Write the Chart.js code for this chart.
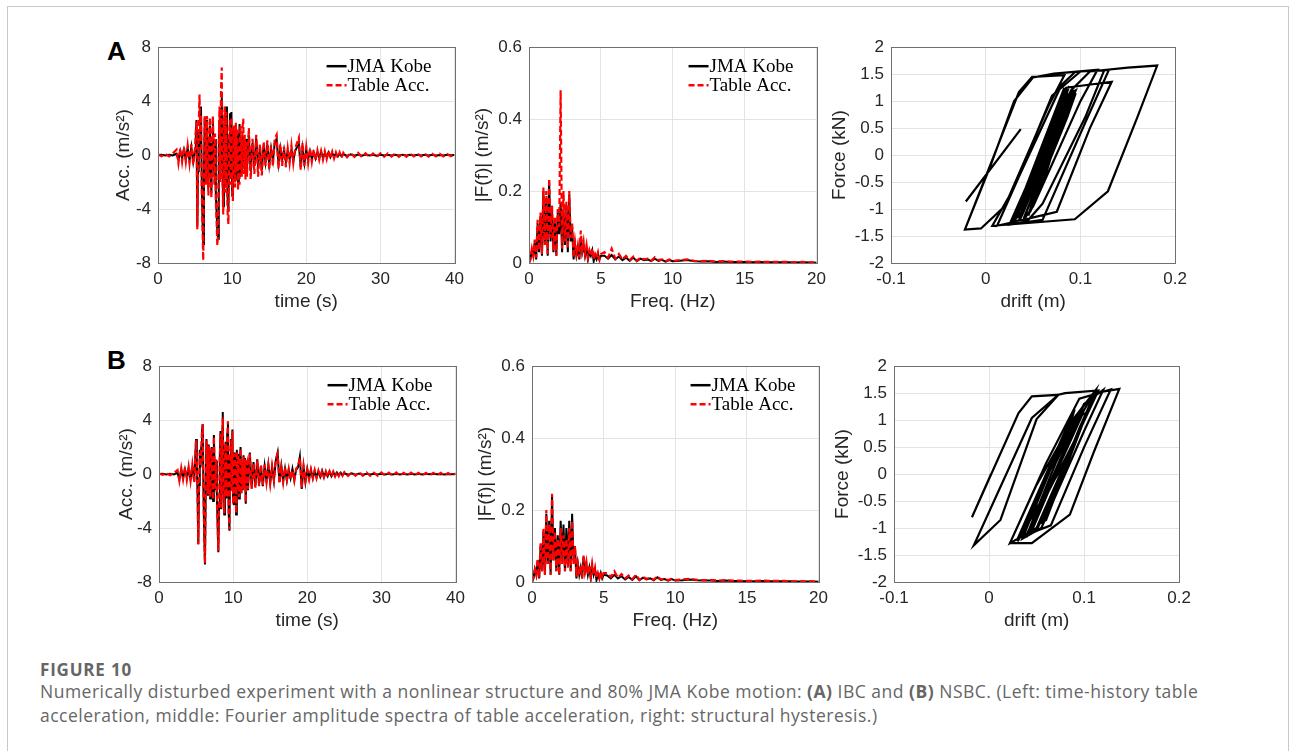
<!DOCTYPE html>
<html>
<head>
<meta charset="utf-8">
<script src="https://cdn.jsdelivr.net/npm/chart.js@4.4.0/dist/chart.umd.min.js"></script>
<style>
  body { margin: 0; width: 1293px; height: 751px; overflow: hidden; position: relative; background: #fff; }
  .frame { position: absolute; left: 7px; top: 6px; width: 1282px; height: 800px; border: 1px solid #c8c8c8; box-sizing: border-box; }
  .tag { position: absolute; font: bold 26px "Liberation Sans", Arial, sans-serif; color: #000; }
  .cap { position: absolute; left: 40px; font-family: "Open Sans", "Noto Sans", sans-serif; color: #666; white-space: nowrap; }
  .cap-title { top: 659px; font-size: 17px; font-weight: 700; line-height: 22px; letter-spacing: 0.8px; }
  .cap-text { top: 679px; font-size: 17.5px; line-height: 24px; letter-spacing: 0.5px; }
</style>
</head>
<body>
<div class="frame"></div>
<div class="tag" style="left:107px;top:36px;">A</div>
<div class="tag" style="left:107px;top:345px;">B</div>
<div class="cap cap-title">FIGURE 10</div>
<div class="cap cap-text">Numerically disturbed experiment with a nonlinear structure and 80% JMA Kobe motion: <b>(A)</b> IBC and <b>(B)</b> NSBC. (Left: time-history table<br>acceleration, middle: Fourier amplitude spectra of table acceleration, right: structural hysteresis.)</div>

<script>
// time axis (s)
const timeS = [
  0, 0.5, 1, 1.5, 2, 2.5, 2.75, 3, 3.25, 3.5, 3.75, 4, 4.25, 4.5, 4.75,
  5, 5.1, 5.2, 5.3, 5.4, 5.5, 5.6, 5.7, 5.8, 5.9,
  6, 6.1, 6.2, 6.3, 6.4, 6.5, 6.6, 6.7, 6.8, 6.9,
  7, 7.1, 7.2, 7.3, 7.4, 7.5, 7.6, 7.7, 7.8, 7.9,
  8, 8.1, 8.2, 8.3, 8.4, 8.5, 8.6, 8.7, 8.8, 8.9,
  9, 9.1, 9.2, 9.3, 9.4, 9.5, 9.6, 9.7, 9.8, 9.9,
  10, 10.1, 10.2, 10.3, 10.4, 10.5, 10.6, 10.7, 10.8, 10.9,
  11, 11.1, 11.2, 11.3, 11.4, 11.5, 11.6, 11.7, 11.8, 11.9,
  12, 12.25, 12.5, 12.75, 13, 13.25, 13.5, 13.75, 14, 14.25, 14.5, 14.75,
  15, 15.25, 15.5, 15.75, 16, 16.25, 16.5, 16.75, 17, 17.25, 17.5, 17.75,
  18, 18.25, 18.5, 18.75, 19, 19.25, 19.5, 19.75, 20, 20.25, 20.5, 20.75,
  21, 21.25, 21.5, 21.75, 22, 22.25, 22.5, 22.75, 23, 23.25, 23.5, 23.75,
  24, 24.25, 24.5, 24.75,
  25, 25.5, 26, 26.5, 27, 27.5, 28, 28.5, 29, 29.5, 30, 30.5, 31, 31.5, 32, 32.5,
  33, 33.5, 34, 34.5, 35, 35.5, 36, 36.5, 37, 37.5, 38, 38.5, 39, 39.5, 40
];

// (A) IBC - acceleration (m/s2)
const kobeAccA = [
  0, 0.02, -0.02, 0.03, -0.03, 0.1, -0.35, 0.3, -0.25, 0.4, -0.3, 0.5, -0.4, 0.6, -0.5,
  0.4, 1.5, 2.6, -5.3, -1.2, 1.8, 0.6, 2.4, 3.6, -2.0,
  -4.8, -6.6, -1.5, 2.8, 1.0, -1.8, 2.6, -0.5, -2.4, 1.2,
  2.2, -1.0, -2.8, 0.8, 2.5, 0.2, -1.6, 1.2, -2.9, -4.2,
  -5.6, -6.2, 0.5, 2.6, -1.2, 3.4, 4.4, -1.0, -3.8, 1.8,
  2.8, -2.2, 3.6, -0.8, -3.4, -4.2, 1.2, 3.1, -1.4, 3.2,
  -3.0, -2.4, 1.8, 0.6, -1.8, 2.0, -0.8, 1.6, -2.0, 0.5,
  2.3, -1.6, 0.8, -1.2, 1.4, -0.9, 1.1, -1.3, 0.6, 1.2,
  -1.0, 1.5, -1.2, 0.9, -0.8, 1.2, -0.9, 0.6, -1.1, 0.7, -0.5, 0.8,
  -0.7, 0.5, -0.4, 0.9, 1.2, -0.6, 0.5, -0.4, 0.4, -0.5, 0.3, -0.3,
  0.4, -0.4, 0.3, 0.6, 0.8, -0.9, 0.5, -0.6, 0.4, -0.3, 0.3, -0.3,
  0.2, -0.25, 0.2, -0.2, 0.25, -0.2, 0.15, -0.15, 0.2, -0.15, 0.15, -0.1,
  0.12, -0.1, 0.1, -0.08,
  0.08, -0.06, 0.05, -0.05, 0.04, -0.04, 0.05, -0.03, 0.03, -0.04, 0.03, -0.03, 0.02, -0.03, 0.03, -0.02,
  0.02, -0.03, 0.02, -0.02, 0.03, -0.02, 0.02, -0.02, 0.02, -0.02, 0.01, -0.02, 0.02, -0.01, 0
];
const tableAccA = [
  0.05, -0.08, 0.1, -0.1, 0.12, 0.4, -0.6, 0.5, -0.5, 0.6, -0.5, 0.7, -0.6, 0.8, -0.7,
  0.5, 1.8, 2.5, -5.5, -1.5, 2.2, 4.5, 1.0, 3.0, -2.5,
  -5.2, -7.8, -2.0, 2.9, 1.4, -2.2, 2.9, -0.8, -3.0, 1.5,
  2.8, -1.4, -3.2, 1.2, 2.9, 0.4, -2.2, 1.6, -3.5, -4.8,
  -6.7, -5.8, 1.0, 3.6, -2.0, 4.8, 6.5, -1.8, -4.4, 2.2,
  3.6, -2.8, 3.2, -1.4, -4.5, -5.1, 1.6, 2.6, -2.2, 2.8,
  -2.8, -3.4, 2.2, 1.0, -2.4, 2.4, -1.2, 2.0, -2.6, 0.8,
  -2.2, 2.2, 1.2, -1.6, 2.0, 2.7, -1.4, 1.5, -1.8, 1.0,
  -1.6, 2.0, -1.8, 1.2, -1.4, 1.5, -1.6, 0.8, -1.5, 1.0, -0.8, 1.1,
  -1.1, 0.7, -0.8, 1.2, 1.5, -1.0, 0.8, -0.8, 0.6, -0.9, 0.5, -0.6,
  0.7, -0.6, 0.5, 0.9, 1.3, -1.1, 0.9, -0.8, 0.6, -0.6, 0.5, -0.5,
  0.4, -0.4, 0.35, -0.35, 0.3, -0.35, 0.3, -0.3, 0.3, -0.25, 0.25, -0.25,
  0.2, -0.2, 0.2, -0.2,
  0.18, -0.16, 0.15, -0.14, 0.16, -0.15, 0.13, -0.14, 0.12, -0.13, 0.14, -0.12, 0.12, -0.11, 0.13, -0.12,
  0.1, -0.12, 0.11, -0.1, 0.12, -0.1, 0.1, -0.11, 0.09, -0.1, 0.1, -0.09, 0.08, -0.09, 0.05
];

// (B) NSBC - acceleration (m/s2)
const kobeAccB = [
  0, 0.02, -0.02, 0.03, -0.03, 0.1, -0.4, 0.3, -0.3, 0.35, -0.3, 0.4, -0.35, 0.5, -0.5,
  2.6, 0.8, -1.5, -5.2, -0.8, 1.8, 0.5, 2.0, 3.2, 3.7,
  -1.5, -4.5, -6.7, -1.0, 2.6, 0.8, -1.6, 2.2, -0.4, -1.8,
  1.4, 2.0, -0.8, -2.0, 2.9, 0.5, -1.2, 1.0, -1.4, -3.6,
  -5.8, -2.5, 1.2, 3.2, -2.6, 2.8, 4.6, -0.8, -3.0, 1.6,
  2.4, -1.8, 3.0, 3.9, -2.8, -4.2, 1.0, 2.6, -1.2, 3.3,
  -2.0, -2.3, 1.6, 0.4, -3.0, 1.8, -1.0, 1.5, -1.8, 0.6,
  2.0, -1.4, 0.8, -1.2, 1.4, -1.0, 1.2, -2.2, 0.6, 1.0,
  -1.2, 1.6, -1.0, 0.9, -0.9, 1.1, -0.8, 0.6, -0.9, 0.6, -0.5, 0.7,
  -0.6, 0.5, -0.5, 1.0, 1.6, -0.6, 0.6, -0.5, 0.4, -0.5, 0.3, -0.3,
  0.4, -0.4, 0.3, 0.5, 1.3, -1.1, 0.5, -0.6, 0.4, -0.3, 0.3, -0.3,
  0.25, -0.25, 0.2, -0.2, 0.25, -0.2, 0.15, -0.15, 0.2, -0.15, 0.15, -0.12,
  0.12, -0.1, 0.1, -0.08,
  0.06, -0.05, 0.05, -0.04, 0.04, -0.04, 0.03, -0.03, 0.03, -0.03, 0.03, -0.02, 0.02, -0.03, 0.02, -0.02,
  0.02, -0.02, 0.02, -0.02, 0.02, -0.02, 0.02, -0.01, 0.02, -0.01, 0.01, -0.02, 0.01, -0.01, 0
];
const tableAccB = [
  0.04, -0.06, 0.08, -0.08, 0.1, 0.3, -0.5, 0.45, -0.4, 0.5, -0.45, 0.55, -0.5, 0.7, -0.6,
  2.5, 0.9, -1.3, -5.2, -1.0, 1.6, 0.6, 2.1, 3.1, 3.7,
  -1.4, -4.4, -6.6, -1.2, 2.5, 0.9, -1.5, 2.1, -0.5, -1.7,
  1.5, 1.9, -0.9, -1.9, 2.8, 0.6, -1.1, 1.1, -1.5, -3.5,
  -5.7, -2.6, 1.1, 3.0, -2.5, 2.7, 4.2, -0.9, -2.9, 1.7,
  2.3, -1.7, 2.9, 3.9, -2.7, -4.1, 1.1, 2.5, -1.3, 3.2,
  -2.1, -2.2, 1.5, 0.5, -2.9, 1.7, -1.1, 1.4, -1.7, 0.7,
  1.9, -1.5, 0.9, -1.1, 1.3, -1.1, 1.1, -2.1, 0.7, 0.9,
  -1.1, 1.5, -1.1, 0.8, -1.0, 1.0, -0.9, 0.7, -0.8, 0.7, -0.6, 0.6,
  -0.7, 0.6, -0.4, 1.1, 1.5, -0.7, 0.5, -0.6, 0.5, -0.4, 0.4, -0.4,
  0.3, -0.5, 0.4, 0.6, 1.2, -1.0, 0.6, -0.5, 0.3, -0.4, 0.35, -0.3,
  0.3, -0.3, 0.25, -0.25, 0.2, -0.25, 0.2, -0.2, 0.2, -0.2, 0.18, -0.18,
  0.15, -0.15, 0.15, -0.12,
  0.15, -0.14, 0.13, -0.12, 0.14, -0.12, 0.12, -0.13, 0.11, -0.12, 0.12, -0.11, 0.1, -0.11, 0.12, -0.1,
  0.1, -0.1, 0.11, -0.09, 0.1, -0.1, 0.09, -0.1, 0.09, -0.08, 0.09, -0.08, 0.08, -0.08, 0.04
];

// frequency axis (Hz)
const freqHz = [
  0, 0.1, 0.2, 0.3, 0.4, 0.5, 0.6, 0.7, 0.8, 0.9,
  1, 1.1, 1.2, 1.3, 1.4, 1.5, 1.6, 1.7, 1.8, 1.9,
  2, 2.1, 2.2, 2.3, 2.4, 2.5, 2.6, 2.7, 2.8, 2.9,
  3, 3.1, 3.2, 3.3, 3.4, 3.5, 3.6, 3.7, 3.8, 3.9,
  4, 4.1, 4.2, 4.3, 4.4, 4.5, 4.6, 4.7, 4.8, 4.9, 5,
  5.25, 5.5, 5.75, 6, 6.25, 6.5, 6.75, 7, 7.25, 7.5, 7.75, 8, 8.25, 8.5, 8.75, 9, 9.25, 9.5, 9.75, 10,
  10.5, 11, 11.5, 12, 12.5, 13, 13.5, 14, 14.5, 15, 15.5, 16, 16.5, 17, 17.5, 18, 18.5, 19, 19.5, 20
];
const kobeFftA = [
  0, 0.01, 0.035, 0.02, 0.06, 0.01, 0.11, 0.03, 0.13, 0.02,
  0.2, 0.05, 0.18, 0.02, 0.23, 0.06, 0.15, 0.03, 0.12, 0.02,
  0.14, 0.08, 0.17, 0.03, 0.15, 0.05, 0.16, 0.03, 0.19, 0.06,
  0.1, 0.01, 0.05, 0.02, 0.04, 0.01, 0.07, 0.03, 0.05, 0.02,
  0.04, 0.01, 0.03, 0.02, 0.035, 0.005, 0.02, 0.01, 0.025, 0.01, 0.02,
  0.02, 0.012, 0.022, 0.01, 0.018, 0.008, 0.015, 0.006, 0.015, 0.005, 0.012, 0.008, 0.01, 0.005, 0.012, 0.006, 0.009, 0.004, 0.008, 0.005,
  0.006, 0.008, 0.005, 0.004, 0.005, 0.003, 0.004, 0.003, 0.003, 0.003, 0.002, 0.003, 0.002, 0.002, 0.002, 0.002, 0.0015, 0.002, 0.0015, 0.001
];
const tableFftA = [
  0, 0.012, 0.04, 0.02, 0.065, 0.015, 0.12, 0.035, 0.14, 0.025,
  0.21, 0.05, 0.2, 0.025, 0.235, 0.07, 0.16, 0.035, 0.13, 0.02,
  0.15, 0.1, 0.48, 0.04, 0.2, 0.06, 0.17, 0.04, 0.2, 0.07,
  0.11, 0.015, 0.06, 0.025, 0.05, 0.015, 0.09, 0.035, 0.06, 0.025,
  0.05, 0.015, 0.035, 0.02, 0.04, 0.01, 0.025, 0.015, 0.03, 0.01, 0.025,
  0.03, 0.015, 0.04, 0.012, 0.025, 0.01, 0.02, 0.008, 0.018, 0.006, 0.015, 0.01, 0.012, 0.006, 0.016, 0.008, 0.01, 0.005, 0.01, 0.006,
  0.008, 0.01, 0.006, 0.005, 0.006, 0.004, 0.005, 0.004, 0.004, 0.004, 0.003, 0.004, 0.003, 0.003, 0.003, 0.003, 0.002, 0.003, 0.002, 0.002
];
const kobeFftB = [
  0, 0.01, 0.035, 0.02, 0.06, 0.01, 0.1, 0.03, 0.14, 0.02,
  0.19, 0.05, 0.17, 0.02, 0.24, 0.06, 0.15, 0.03, 0.13, 0.02,
  0.17, 0.06, 0.16, 0.03, 0.15, 0.05, 0.17, 0.03, 0.19, 0.06,
  0.1, 0.01, 0.05, 0.02, 0.04, 0.01, 0.07, 0.03, 0.05, 0.02,
  0.04, 0.01, 0.045, 0.02, 0.035, 0.005, 0.02, 0.01, 0.025, 0.01, 0.02,
  0.018, 0.01, 0.02, 0.01, 0.016, 0.007, 0.014, 0.006, 0.016, 0.005, 0.012, 0.007, 0.01, 0.005, 0.013, 0.006, 0.008, 0.004, 0.008, 0.004,
  0.005, 0.007, 0.005, 0.004, 0.004, 0.003, 0.004, 0.003, 0.003, 0.002, 0.002, 0.003, 0.002, 0.002, 0.002, 0.002, 0.0015, 0.0015, 0.0015, 0.001
];
const tableFftB = [
  0, 0.012, 0.035, 0.02, 0.065, 0.012, 0.11, 0.03, 0.15, 0.02,
  0.2, 0.05, 0.16, 0.02, 0.245, 0.06, 0.14, 0.03, 0.12, 0.02,
  0.15, 0.05, 0.13, 0.03, 0.12, 0.04, 0.15, 0.03, 0.17, 0.05,
  0.1, 0.015, 0.05, 0.02, 0.045, 0.01, 0.075, 0.03, 0.055, 0.02,
  0.045, 0.015, 0.05, 0.02, 0.04, 0.01, 0.025, 0.01, 0.03, 0.01, 0.025,
  0.025, 0.014, 0.03, 0.012, 0.022, 0.01, 0.018, 0.008, 0.02, 0.006, 0.014, 0.009, 0.012, 0.006, 0.016, 0.007, 0.01, 0.005, 0.01, 0.005,
  0.007, 0.009, 0.006, 0.005, 0.005, 0.004, 0.005, 0.004, 0.004, 0.003, 0.003, 0.004, 0.003, 0.003, 0.003, 0.002, 0.002, 0.002, 0.002, 0.002
];

// hysteresis, drift (m) / force (kN), in time order (null = pen up)
const driftA = [
  -0.021, 0.037, null,
  -0.022, 0.035, 0.049, 0.083, 0.066, 0.02, -0.005, -0.022,
  0.005, 0.03, 0.05, 0.072, 0.118, 0.1, 0.05, 0.04, 0.012, 0.035, 0.08, 0.095,
  0.13, 0.105, 0.06, 0.025, 0.055, 0.085, 0.133, 0.11, 0.075, 0.035, 0.07, 0.09,
  0.11, 0.15, 0.181, 0.16, 0.129, 0.094, 0.007, 0.03, 0.07, 0.1, 0.125, 0.105,
  0.06, 0.045, 0.03, 0.055, 0.085, 0.095, 0.07, 0.035, 0.028, 0.05, 0.08, 0.092,
  0.065, 0.04, 0.032, 0.055, 0.082, 0.088, 0.062, 0.042, 0.038, 0.06, 0.08, 0.085,
  0.028, 0.083, 0.076, 0.034, 0.03, 0.088, 0.08, 0.04, 0.036, 0.092, 0.084, 0.044,
  0.04, 0.095, 0.086, 0.048, 0.045, 0.093, 0.084, 0.05, 0.047, 0.09, 0.082, 0.052,
  0.05, 0.088, 0.078, 0.055, 0.052, 0.085, 0.075, 0.058, 0.06, 0.08, 0.072, 0.062
];
const forceA = [
  -0.86, 0.48, null,
  -1.38, 1.17, 1.45, 1.48, 0.9, -0.95, -1.36, -1.38,
  -0.2, 1.0, 1.44, 1.51, 1.58, 1.0, -0.95, -1.2, -1.31, -0.4, 1.3, 1.55,
  1.58, 0.6, -1.2, -1.29, -0.1, 1.25, 1.36, 0.5, -1.05, -1.22, 0.4, 1.2,
  1.55, 1.62, 1.66, 0.7, -0.67, -1.19, -1.31, -0.6, 1.1, 1.55, 1.57, 0.7,
  -0.9, -1.2, -1.22, -0.2, 1.1, 1.2, 0.1, -1.15, -1.18, -0.3, 1.0, 1.15,
  0, -1.05, -1.1, -0.2, 0.95, 1.05, -0.05, -0.95, -1.0, 0, 0.85, 0.9,
  -1.25, 1.25, 0.9, -1.1, -1.22, 1.28, 0.85, -1.05, -1.2, 1.22, 0.8, -1.0,
  -1.18, 1.15, 0.7, -0.95, -1.12, 1.1, 0.75, -0.9, -1.05, 1.0, 0.6, -0.8,
  -0.95, 0.9, 0.5, -0.7, -0.8, 0.8, 0.4, -0.5, -0.55, 0.6, 0.3, -0.3
];
const driftB = [
  0.002, -0.018, 0.031, 0.045, 0.073, 0.05, 0.012, -0.016, 0.045, 0.073, 0.08, 0.115, 0.095,
  0.04, 0.022, 0.05, 0.09, 0.112, 0.085, 0.03, 0.06, 0.1, 0.12, 0.1, 0.055,
  0.035, 0.065, 0.11, 0.137, 0.11, 0.085, 0.045, 0.022, 0.06, 0.095, 0.128, 0.1,
  0.065, 0.04, 0.07, 0.1, 0.11, 0.08, 0.05, 0.045, 0.075, 0.098, 0.104, 0.078,
  0.058, 0.062, 0.082, 0.076,
  0.03, 0.09, 0.085, 0.035, 0.04, 0.1, 0.092, 0.045, 0.05, 0.105, 0.095, 0.055, 0.06, 0.1, 0.09, 0.065
];
const forceB = [
  0, -0.8, 1.13, 1.44, 1.47, 1.02, -0.85, -1.32, 1.04, 1.47, 1.5, 1.55, 0.8,
  -1.1, -1.28, -0.2, 1.05, 1.55, 0.4, -1.25, 0, 1.3, 1.56, 0.8, -1.0,
  -1.2, 0.1, 1.5, 1.58, 0.4, -0.75, -1.28, -1.28, 0.2, 1.4, 1.57, 0.5,
  -0.95, -1.12, 0.2, 1.3, 1.4, 0.2, -1.0, -1.05, 0.2, 1.1, 1.15, 0.1,
  -0.8, -0.7, 0.3, 0.1,
  -1.2, 1.2, 0.9, -1.1, -1.15, 1.3, 0.95, -1.0, -1.05, 1.25, 0.85, -0.9, -0.85, 1.0, 0.6, -0.5
];

const SANS = '"Liberation Sans", Arial, sans-serif';
const INK = '#262626';

function points(xs, ys) {
  return xs.map((x, i) => ({x: x, y: ys[i]}));
}

// closed MATLAB style box round the plot area
const axisBox = {
  id: 'axisBox',
  afterDraw(chart) {
    const {ctx, chartArea: a} = chart;
    ctx.save();
    ctx.strokeStyle = '#707070';
    ctx.lineWidth = 1;
    ctx.strokeRect(Math.round(a.left) + 0.5, Math.round(a.top) + 0.5,
                   Math.round(a.right - a.left), Math.round(a.bottom - a.top));
    ctx.restore();
  }
};

// legend inside the plot, top right, no frame
const innerLegend = {
  id: 'innerLegend',
  afterDraw(chart, args, opts) {
    if (!opts.show) return;
    const {ctx, chartArea: a} = chart;
    chart.data.datasets.forEach((ds, i) => {
      const y = a.top + 19 + i * 19;
      const x0 = a.right - 128, x1 = a.right - 108;
      ctx.save();
      ctx.strokeStyle = ds.borderColor;
      ctx.lineWidth = 2.5;
      ctx.setLineDash(ds.borderDash || []);
      ctx.beginPath();
      ctx.moveTo(x0, y);
      ctx.lineTo(x1, y);
      ctx.stroke();
      ctx.setLineDash([]);
      ctx.fillStyle = '#000';
      ctx.font = '19px "Liberation Serif", "Times New Roman", serif';
      ctx.textBaseline = 'middle';
      ctx.fillText(ds.label, x1 + 1, y + 1);
      ctx.restore();
    });
  }
};

function kobeSet(xs, ys) {
  return {label: 'JMA Kobe', data: points(xs, ys), borderColor: '#000000', borderWidth: 2, order: 1};
}
function tableSet(xs, ys) {
  return {label: 'Table Acc.', data: points(xs, ys), borderColor: '#ff0000', borderWidth: 2.2, borderDash: [6, 3], order: 0};
}

// L,T,R,B = plot area on the page; gap = distance from plot left to y title centre
function panel(L, T, R, B, gap, datasets, xAxis, yAxis, legend) {
  const w = R - L + 85, h = B - T + 72;
  const c = document.createElement('canvas');
  c.width = w; c.height = h;
  c.style.cssText = 'position:absolute;left:' + (L - 70) + 'px;top:' + (T - 15) + 'px;width:' + w + 'px;height:' + h + 'px;';
  document.body.appendChild(c);
  const tickFmt = v => String(Math.round(v * 1000) / 1000);
  return new Chart(c, {
    type: 'line',
    data: {datasets: datasets},
    plugins: [axisBox, innerLegend],
    options: {
      responsive: false,
      animation: false,
      devicePixelRatio: 1,
      spanGaps: false,
      layout: {padding: {left: 0, top: 15, right: 15, bottom: 0}},
      elements: {point: {radius: 0}, line: {tension: 0}},
      plugins: {legend: {display: false}, tooltip: {enabled: false}, innerLegend: {show: legend}},
      scales: {
        x: {
          type: 'linear', position: 'bottom',
          min: xAxis.min, max: xAxis.max,
          afterFit: s => { s.height = 57; },
          grid: {color: '#e3e3e3', drawTicks: false},
          border: {display: false},
          ticks: {stepSize: xAxis.step, padding: 6, color: INK, font: {family: SANS, size: 17}, callback: tickFmt, maxRotation: 0},
          title: {display: true, text: xAxis.title, color: INK, font: {family: SANS, size: 19}, padding: {top: 0, bottom: 6.6}}
        },
        y: {
          type: 'linear', position: 'left',
          min: yAxis.min, max: yAxis.max,
          afterFit: s => { s.width = 70; },
          grid: {color: '#e3e3e3', drawTicks: false},
          border: {display: false},
          ticks: {stepSize: yAxis.step, padding: 7, color: INK, font: {family: SANS, size: 17}, callback: tickFmt},
          title: {display: true, text: yAxis.title, color: INK, font: {family: SANS, size: 19}, padding: {top: 58.6 - gap, bottom: 0}}
        }
      }
    }
  });
}

const accX = {min: 0, max: 40, step: 10, title: 'time (s)'};
const accY = {min: -8, max: 8, step: 4, title: 'Acc. (m/s²)'};
const fftX = {min: 0, max: 20, step: 5, title: 'Freq. (Hz)'};
const fftY = {min: 0, max: 0.6, step: 0.2, title: '|F(f)| (m/s²)'};
const hysX = {min: -0.1, max: 0.2, step: 0.1, title: 'drift (m)'};
const hysY = {min: -2, max: 2, step: 0.5, title: 'Force (kN)'};

// row A (IBC)
panel(158, 45, 455, 263, 34, [kobeSet(timeS, kobeAccA), tableSet(timeS, tableAccA)], accX, accY, true);
panel(529, 45, 817, 263, 46, [kobeSet(freqHz, kobeFftA), tableSet(freqHz, tableFftA)], fftX, fftY, true);
panel(891, 45, 1178, 263, 51, [{label: 'A', data: points(driftA, forceA), borderColor: '#000', borderWidth: 2.2}], hysX, hysY, false);

// row B (NSBC)
panel(159, 364, 456, 582, 32, [kobeSet(timeS, kobeAccB), tableSet(timeS, tableAccB)], accX, accY, true);
panel(532, 364, 819, 582, 46, [kobeSet(freqHz, kobeFftB), tableSet(freqHz, tableFftB)], fftX, fftY, true);
panel(894, 364, 1182, 582, 51, [{label: 'B', data: points(driftB, forceB), borderColor: '#000', borderWidth: 2.2}], hysX, hysY, false);
</script>
</body>
</html>
